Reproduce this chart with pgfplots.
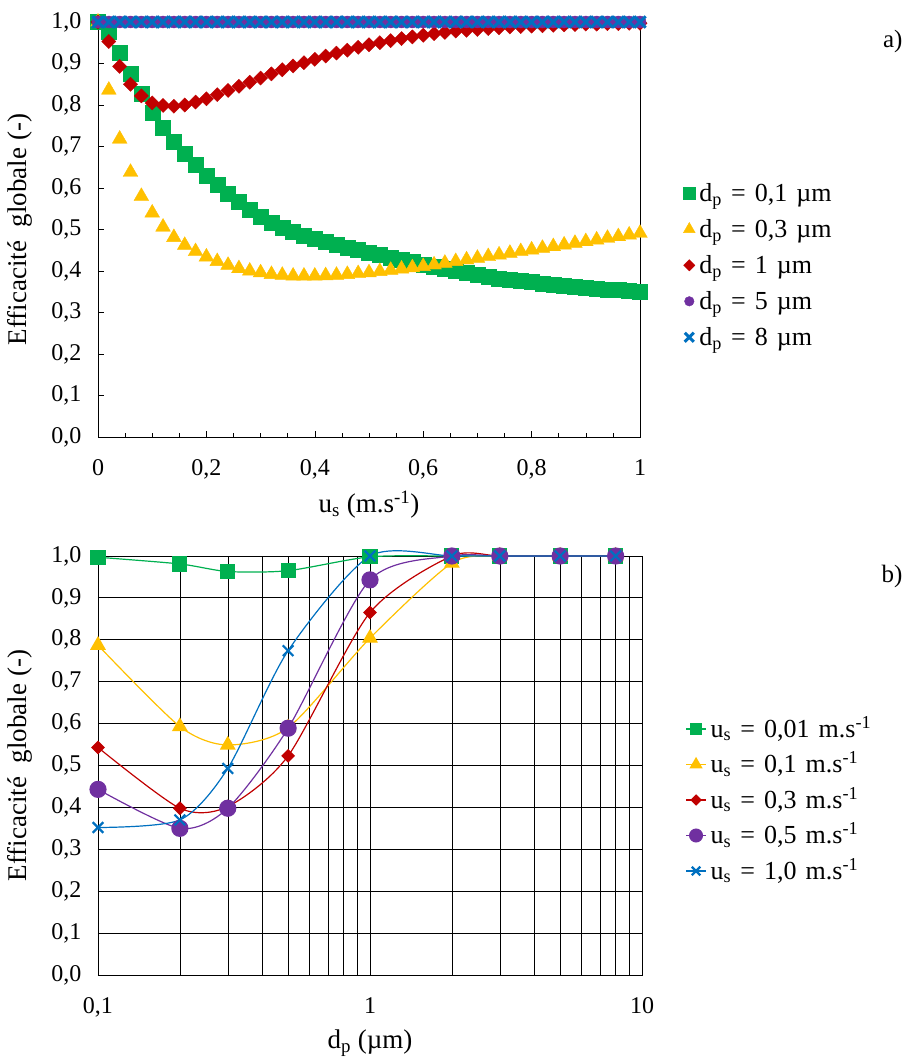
\documentclass[border=0pt]{standalone}
\usepackage{fontspec}
\setmainfont{Liberation Serif}
\usepackage{pgfplots}
\usepackage{pgfplotstable}
\pgfplotsset{compat=1.18}
\definecolor{cgreen}{HTML}{00B050}
\definecolor{cyellow}{HTML}{FFC000}
\definecolor{cred}{HTML}{C00000}
\definecolor{cpurple}{HTML}{7030A0}
\definecolor{cblue}{HTML}{0070C0}

\pgfplotstableread{
x g y r one
0.00 1.000 1.000 1.000 1.000
0.02 0.977 0.836 0.953 1.000
0.04 0.926 0.718 0.893 1.000
0.06 0.875 0.638 0.850 1.000
0.08 0.827 0.580 0.822 1.000
0.10 0.782 0.540 0.805 1.000
0.12 0.745 0.506 0.799 1.000
0.14 0.711 0.481 0.797 1.000
0.16 0.682 0.462 0.800 1.000
0.18 0.655 0.447 0.807 1.000
0.20 0.630 0.434 0.815 1.000
0.22 0.607 0.423 0.825 1.000
0.24 0.586 0.414 0.835 1.000
0.26 0.566 0.406 0.845 1.000
0.28 0.548 0.400 0.855 1.000
0.30 0.531 0.396 0.865 1.000
0.32 0.516 0.392 0.875 1.000
0.34 0.504 0.390 0.885 1.000
0.36 0.494 0.388 0.894 1.000
0.38 0.486 0.388 0.902 1.000
0.40 0.478 0.388 0.910 1.000
0.42 0.471 0.389 0.918 1.000
0.44 0.464 0.390 0.925 1.000
0.46 0.457 0.392 0.932 1.000
0.48 0.451 0.394 0.939 1.000
0.50 0.445 0.396 0.945 1.000
0.52 0.439 0.399 0.950 1.000
0.54 0.433 0.402 0.955 1.000
0.56 0.428 0.405 0.960 1.000
0.58 0.422 0.408 0.964 1.000
0.60 0.416 0.411 0.968 1.000
0.62 0.410 0.415 0.972 1.000
0.64 0.405 0.419 0.975 1.000
0.66 0.400 0.423 0.978 1.000
0.68 0.395 0.427 0.980 1.000
0.70 0.390 0.431 0.982 1.000
0.72 0.386 0.435 0.984 1.000
0.74 0.382 0.439 0.986 1.000
0.76 0.379 0.443 0.988 1.000
0.78 0.376 0.447 0.989 1.000
0.80 0.373 0.451 0.990 1.000
0.82 0.370 0.455 0.991 1.000
0.84 0.367 0.459 0.992 1.000
0.86 0.365 0.463 0.993 1.000
0.88 0.362 0.467 0.994 1.000
0.90 0.360 0.471 0.995 1.000
0.92 0.358 0.475 0.995 1.000
0.94 0.356 0.479 0.996 1.000
0.96 0.354 0.483 0.996 1.000
0.98 0.353 0.487 0.997 1.000
1.00 0.351 0.491 0.997 1.000
}\topdata

\pgfplotstableread{
x g y r p b
0.1 0.997 0.787 0.543 0.443 0.352
0.2 0.981 0.593 0.398 0.350 0.370
0.3 0.963 0.549 0.402 0.398 0.493
0.5 0.965 0.590 0.523 0.589 0.774
1   0.998 0.804 0.865 0.943 1.000
2   1.000 0.983 1.000 1.000 1.000
3   1.000 1.000 1.000 1.000 1.000
5   1.000 1.000 1.000 1.000 1.000
8   1.000 1.000 1.000 1.000 1.000
}\botdata

\newcommand{\gap}{\hspace{0.35em}}
\newcommand{\titlefont}{\fontsize{27bp}{31bp}\selectfont}
\newcommand{\legfont}{\fontsize{26bp}{30bp}\selectfont}

\begin{document}
\begin{tikzpicture}[font=\fontsize{24bp}{28bp}\selectfont]
\useasboundingbox (0,0) rectangle (909bp,1059bp);
\pgfplotsset{
  myaxis/.style={
    scale only axis, anchor=south west, clip=false,
    ymin=0, ymax=1,
    ytick={0,0.1,0.2,0.3,0.4,0.5,0.6,0.7,0.8,0.9,1},
    yticklabels={{0,0},{0,1},{0,2},{0,3},{0,4},{0,5},{0,6},{0,7},{0,8},{0,9},{1,0}},
    axis line style={black, line width=0.8bp},
    xticklabel style={yshift=-19bp},
    yticklabel style={xshift=-13bp},
    ylabel={Efficacité \ globale (-)},
    label style={font=\titlefont},
    legend cell align=left,
    legend image code/.code={\draw[mark repeat=2,mark phase=2,##1,every mark/.append style={scale=0.8},yshift=7bp] plot coordinates {(0bp,0bp) (10bp,0bp) (20bp,0bp)};},
  }
}
% ---------- a) ----------
\begin{axis}[myaxis,
  at={(98bp,622bp)}, width=542bp, height=415bp,
  xmin=0, xmax=1,
  xtick={0,0.2,0.4,0.6,0.8,1},
  xticklabels={0,{0,2},{0,4},{0,6},{0,8},1},
  minor x tick num=3,
  xtick pos=bottom, ytick pos=left,
  tick align=inside,
  major tick length=6bp, minor tick length=4bp,
  tick style={black, line width=0.6bp},
  xlabel={u\textsubscript{s} (m.s\textsuperscript{-1})},
  xlabel style={at={(axis description cs:0.5,-0.164)}, anchor=center},
  ylabel style={at={(axis description cs:-0.144,0.5)}, anchor=center},
  legend style={at={(axis description cs:1.074,0.619)}, anchor=north west,
    draw=none, fill=none, row sep=0bp, column sep=3bp, font=\legfont,
    nodes={inner sep=1bp, text height=18bp, text depth=16bp}},
]
\addplot[only marks, mark=square*, mark size=7.5bp, color=cgreen] table[x=x,y=g] {\topdata};
\addlegendentry{d\textsubscript{p}\gap=\gap0,1\gap µm}
\addplot[only marks, mark=triangle*, mark size=8.5bp, color=cyellow] table[x=x,y=y] {\topdata};
\addlegendentry{d\textsubscript{p}\gap=\gap0,3\gap µm}
\addplot[only marks, mark=square*, mark size=5bp, mark options={rotate=45}, color=cred] table[x=x,y=r] {\topdata};
\addlegendentry{d\textsubscript{p}\gap=\gap1\gap µm}
\addplot[only marks, mark=*, mark size=6bp, color=cpurple] table[x=x,y=one] {\topdata};
\addlegendentry{d\textsubscript{p}\gap=\gap5\gap µm}
\addplot[only marks, mark=x, mark size=8bp, color=cblue, mark options={line width=3bp}] table[x=x,y=one] {\topdata};
\addlegendentry{d\textsubscript{p}\gap=\gap8\gap µm}
\end{axis}
% ---------- b) ----------
\begin{axis}[myaxis,
  at={(98bp,84bp)}, width=544bp, height=419bp,
  xmode=log, xmin=0.1, xmax=10,
  xtick={0.1,1,10},
  xticklabels={{0,1},1,10},
  minor xtick={0.2,0.3,0.4,0.5,0.6,0.7,0.8,0.9,2,3,4,5,6,7,8,9},
  grid=both,
  major grid style={black, line width=0.9bp},
  minor grid style={black, line width=0.5bp},
  major tick length=0bp, minor tick length=0bp,
  xlabel={d\textsubscript{p} (µm)},
  xlabel style={at={(axis description cs:0.5,-0.162)}, anchor=center},
  ylabel style={at={(axis description cs:-0.143,0.5)}, anchor=center},
  legend style={at={(axis description cs:1.074,0.618)}, anchor=north west,
    draw=none, fill=none, row sep=0bp, column sep=3bp, font=\legfont,
    nodes={inner sep=1bp, text height=18bp, text depth=15.5bp}},
]
\addplot[smooth, tension=0.45, mark=square*, mark size=7bp, color=cgreen, line width=1.2bp] table[x=x,y=g] {\botdata};
\addlegendentry{u\textsubscript{s}\gap=\gap0,01\gap m.s\textsuperscript{-1}}
\addplot[smooth, tension=0.45, mark=triangle*, mark size=8bp, color=cyellow, line width=1.2bp] table[x=x,y=y] {\botdata};
\addlegendentry{u\textsubscript{s}\gap=\gap0,1\gap m.s\textsuperscript{-1}}
\addplot[smooth, tension=0.45, mark=square*, mark size=4.3bp, mark options={rotate=45}, color=cred, line width=1.2bp] table[x=x,y=r] {\botdata};
\addlegendentry{u\textsubscript{s}\gap=\gap0,3\gap m.s\textsuperscript{-1}}
\addplot[smooth, tension=0.45, mark=*, mark size=8bp, color=cpurple, line width=1.2bp] table[x=x,y=p] {\botdata};
\addlegendentry{u\textsubscript{s}\gap=\gap0,5\gap m.s\textsuperscript{-1}}
\addplot[smooth, tension=0.45, mark=x, mark size=7.5bp, color=cblue, line width=1.2bp, mark options={line width=2.2bp}] table[x=x,y=b] {\botdata};
\addlegendentry{u\textsubscript{s}\gap=\gap1,0\gap m.s\textsuperscript{-1}}
\end{axis}
\node[anchor=east, font=\fontsize{25bp}{29bp}\selectfont] at (906bp,1017bp) {a)};
\node[anchor=east, font=\fontsize{25bp}{29bp}\selectfont] at (906bp,483bp) {b)};
\end{tikzpicture}
\end{document}
